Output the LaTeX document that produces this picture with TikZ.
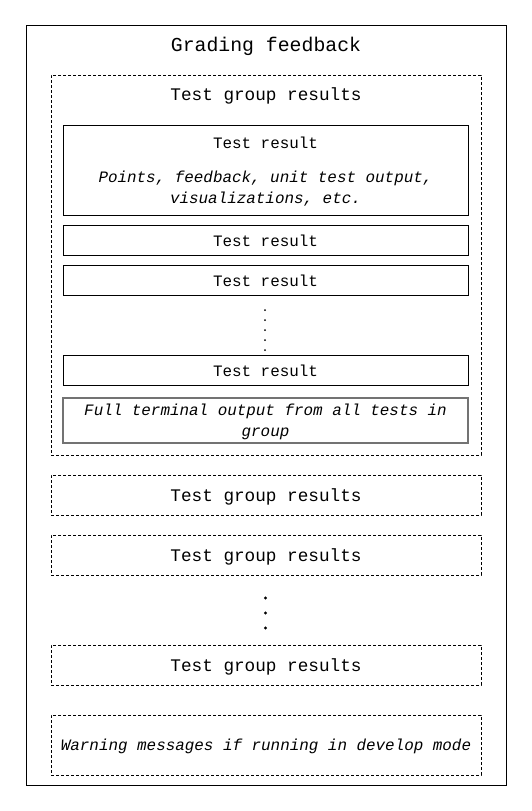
\documentclass[tikz,border=0pt]{standalone}
\usepackage{fontspec}
\setmainfont{Liberation Mono}
\begin{document}
\begin{tikzpicture}[x=1pt,y=-1pt,
  frame/.style={draw=black,line width=0.9pt,inner sep=0pt,outer sep=0pt},
  dashbox/.style={draw=black,line width=0.9pt,dash pattern=on 3pt off 2pt,inner sep=0pt,outer sep=0pt},
  solidbox/.style={draw=black,line width=0.9pt,inner sep=0pt,outer sep=0pt},
  graybox/.style={draw=black!55,line width=1.1pt,inner sep=0pt,outer sep=0pt},
  titletxt/.style={font=\fontsize{19.8}{24}\selectfont,inner sep=0pt},
  grouptxt/.style={font=\fontsize{17.7}{22}\selectfont,inner sep=0pt},
  testtxt/.style={font=\fontsize{15.9}{21}\selectfont,inner sep=0pt},
  ittxt/.style={font=\fontsize{15.9}{21}\selectfont\itshape,inner sep=0pt,align=center},
  dot/.style={fill=black}
]
\useasboundingbox (0,0) rectangle (532,811);
% outer
\node[frame,minimum width=480pt,minimum height=760pt] (outer) at (266,405) {};
\node[titletxt] (title) at (266,46) {Grading feedback};
% group 1
\node[dashbox,minimum width=430pt,minimum height=380pt] (g1) at (266,265) {};
\node[grouptxt] (g1t) at (266,95.5) {Test group results};
\node[solidbox,minimum width=405pt,minimum height=90pt] (tr1) at (265.5,170) {};
\node[testtxt] (tr1t) at (265.5,142.5) {Test result};
\node[ittxt] (tr1d) at (265.5,189) {Points, feedback, unit test output,\\visualizations, etc.};
\node[solidbox,minimum width=405pt,minimum height=30pt] (tr2) at (265.5,240) {};
\node[testtxt] (tr2t) at (265.5,241) {Test result};
\node[solidbox,minimum width=405pt,minimum height=30pt] (tr3) at (265.5,280) {};
\node[testtxt] (tr3t) at (265.5,281) {Test result};
\foreach \yy in {310,320,330,340,350} \fill[dot] (265,\yy) circle (1pt);
\node[solidbox,minimum width=405pt,minimum height=30pt] (tr4) at (265.5,370) {};
\node[testtxt] (tr4t) at (265.5,371) {Test result};
\node[graybox,minimum width=405pt,minimum height=45pt] (full) at (265.5,420.5) {};
\node[ittxt] (fullt) at (265.5,421.5) {Full terminal output from all tests in\\group};
% groups 2-4
\node[dashbox,minimum width=430pt,minimum height=40pt] (g2) at (266,495) {};
\node[grouptxt] (g2t) at (266,497) {Test group results};
\node[dashbox,minimum width=430pt,minimum height=40pt] (g3) at (266,555) {};
\node[grouptxt] (g3t) at (266,557) {Test group results};
\foreach \yy in {598,613,628} \fill[dot] (265.5,\yy) circle (1.6pt);
\node[dashbox,minimum width=430pt,minimum height=40pt] (g4) at (266,665) {};
\node[grouptxt] (g4t) at (266,667) {Test group results};
% warning
\node[dashbox,minimum width=430pt,minimum height=60pt] (warn) at (266,745) {};
\node[ittxt] (warnt) at (266,746) {Warning messages if running in develop mode};
\end{tikzpicture}
\end{document}
